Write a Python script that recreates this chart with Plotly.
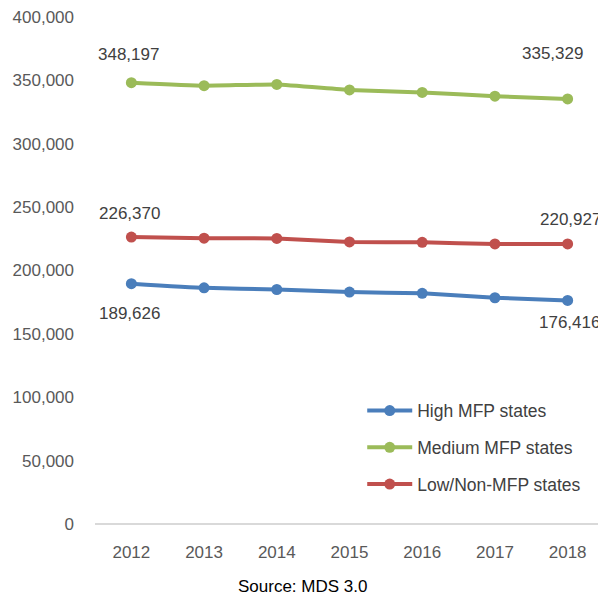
import plotly.graph_objects as go

years = ["2012", "2013", "2014", "2015", "2016", "2017", "2018"]
high = [189626, 186300, 185000, 183000, 182000, 178500, 176416]
medium = [348197, 345800, 346800, 342500, 340500, 337500, 335329]
low = [226370, 225500, 225300, 222500, 222200, 221000, 220927]
names = ["High MFP states", "Medium MFP states", "Low/Non-MFP states"]
colors = ["#4A7EBB", "#9BBB59", "#C0504D"]
y_ticks = [0, 50000, 100000, 150000, 200000, 250000, 300000, 350000, 400000]

font = "Liberation Sans, Arial, sans-serif"
fig = go.Figure()
for i, (name, vals, c) in enumerate(zip(names, [high, medium, low], colors)):
    fig.add_trace(go.Scatter(
        x=years, y=vals, name=name, mode="lines+markers",
        legendgroup=f"g{i}",
        line=dict(color=c, width=4, shape="spline", smoothing=0.4),
        marker=dict(color=c, size=11),
    ))

# Data labels at first and last points (x given as category index)
n = len(years) - 1
labels = [
    (0, medium[0], -3, 28),
    (n, medium[-1], -15, 45),
    (0, low[0], -2, 24),
    (n, low[-1], 3, 24),
    (0, high[0], -2, -30),
    (n, high[-1], 2, -22),
]
for x, y, xs, ys in labels:
    fig.add_annotation(x=x, y=y, text=f"{y:,}", showarrow=False,
                       xshift=xs, yshift=ys,
                       font=dict(family=font, size=17, color="#404040"))

fig.add_annotation(xref="paper", yref="paper", x=0.407, y=-0.146,
                   text="Source: MDS 3.0", showarrow=False,
                   font=dict(family=font, size=17, color="#000000"))

fig.update_layout(
    width=606, height=600,
    margin=dict(l=87, r=10, t=9, b=84),
    paper_bgcolor="white", plot_bgcolor="white",
    font=dict(family=font, size=17, color="#595959"),
    xaxis=dict(type="category", range=[-0.5, 6.5], showgrid=False,
               showline=False, ticks="", tickfont=dict(size=17),
               ticklabelstandoff=16, automargin=False),
    yaxis=dict(range=[0, 400000], tickvals=y_ticks, tickformat=",",
               showgrid=False, zeroline=True, zerolinecolor="#D9D9D9",
               zerolinewidth=1.5, ticks="", tickfont=dict(size=17),
               ticklabelstandoff=20, automargin=False,
               ticklabeloverflow="allow"),
    legend=dict(x=0.525, y=0.259, xanchor="left", yanchor="top",
                bgcolor="rgba(0,0,0,0)", tracegroupgap=11,
                itemwidth=45,
                font=dict(family=font, size=17.5, color="#404040")),
    showlegend=True,
)
fig.write_html("out.html")
